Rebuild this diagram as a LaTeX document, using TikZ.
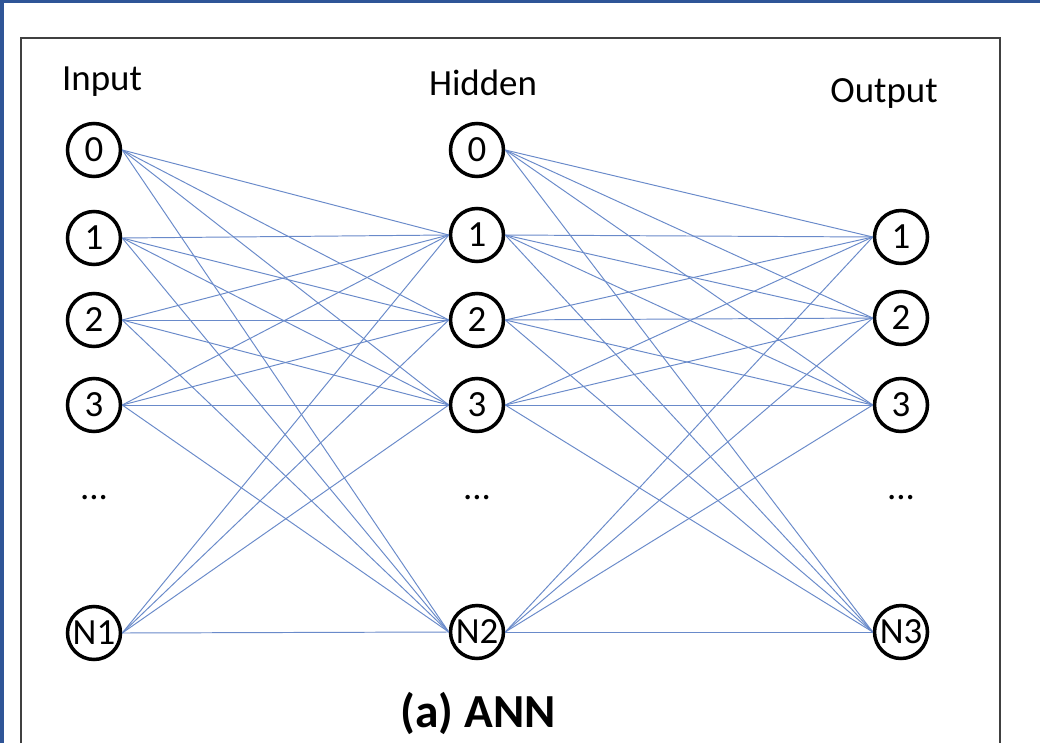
\documentclass[tikz,border=0pt]{standalone}
\usepackage{fontspec}
\setmainfont{Carlito}
\usetikzlibrary{positioning}

\begin{document}
\begin{tikzpicture}[x=0.02cm, y=-0.02cm]
    % Colours
    \definecolor{frameblue}{RGB}{47, 85, 151}  % outer blue border
    \definecolor{edgeblue}{RGB}{105, 138, 202} % weights
    \tikzset{
        neuron/.style={circle, draw=black, line width=2pt, fill=white,
            minimum size=1.06cm, inner sep=0pt, font=\fontsize{21}{21}\selectfont},
        layerlabel/.style={font=\fontsize{21}{21}\selectfont},
        weight/.style={edgeblue, line width=0.55pt}
    }
    \useasboundingbox (0,0) rectangle (1040,743);

    % 1. Background and frame
    \fill[frameblue] (0,0) rectangle (1040,743);
    \fill[white] (4,3) rectangle (1040,743);
    \draw[black!75, line width=1pt] (21,743) -- (21,38) -- (1000,38) -- (1000,743);

    % 2. Layer titles
    \node[layerlabel] (tin)  at (102,82) {Input};
    \node[layerlabel] (thid) at (483,83) {Hidden};
    \node[layerlabel] (tout) at (884,94) {Output};

    % 3. Neurons
    \node[neuron] (i0) at (94,150) {0};
    \node[neuron] (i1) at (94,238) {1};
    \node[neuron] (i2) at (94,320) {2};
    \node[neuron] (i3) at (94,405) {3};
    \node[neuron] (iN) at (94,633) {N1};

    \node[neuron] (h0) at (477,150) {0};
    \node[neuron] (h1) at (477,235) {1};
    \node[neuron] (h2) at (477,320) {2};
    \node[neuron] (h3) at (477,405) {3};
    \node[neuron] (hN) at (477,632) {N2};

    \node[neuron] (o1) at (901,237) {1};
    \node[neuron] (o2) at (901,318) {2};
    \node[neuron] (o3) at (901,405) {3};
    \node[neuron] (oN) at (901,632) {N3};

    \node[layerlabel] (di) at (94,498) {...};
    \node[layerlabel] (dh) at (477,498) {...};
    \node[layerlabel] (do) at (901,498) {...};

    % 4. Weights
    \foreach \a in {0,1,2,3,N}
        \foreach \b in {1,2,3,N}
            \draw[weight] (i\a.east) -- (h\b.west);
    \foreach \a in {0,1,2,3,N}
        \foreach \b in {1,2,3,N}
            \draw[weight] (h\a.east) -- (o\b.west);

    % 5. Caption
    \node[font=\fontsize{27}{27}\selectfont\bfseries] (cap) at (478,713) {(a) ANN};
\end{tikzpicture}
\end{document}
